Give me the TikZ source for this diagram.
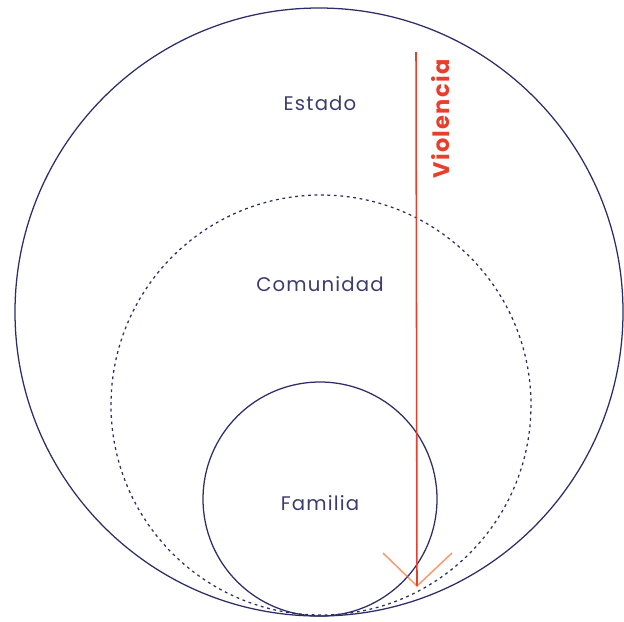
\documentclass[tikz,border=0pt]{standalone}
\usepackage{fontspec}
\setmainfont{Poppins}
\newfontfamily\labelfont[LetterSpace=6]{Poppins}
\definecolor{navy}{RGB}{46,46,102}
\definecolor{textnavy}{RGB}{60,60,110}
\definecolor{violred}{RGB}{232,62,44}

\begin{document}
\begin{tikzpicture}[
    x=0.025cm, y=-0.025cm,
    % Circles (thin navy lines)
    ring/.style={draw=navy, line width=0.9pt},
    dashring/.style={draw=navy, line width=0.9pt, dash pattern=on 2pt off 2.6pt},
    % Labels inside the circles
    label text/.style={text=textnavy, font=\labelfont\fontsize{14}{16}\selectfont, inner sep=0pt},
    % Red arrow
    arrowline/.style={draw=violred, line width=1.1pt},
    arrowhead/.style={draw=violred!55!orange, opacity=0.6, line width=1.1pt}
]
    \useasboundingbox (0,0) rectangle (624,621);

    % --- Circles ---
    \draw[ring] (319,312) circle (304);
    \draw[dashring] (321,405) circle (210);
    \draw[ring] (320,499) circle (117);

    % --- Labels ---
    \node[label text] (estado) at (320,103) {Estado};
    \node[label text] (comunidad) at (320,284) {Comunidad};
    \node[label text] (familia) at (320,503) {Familia};

    % --- Violence arrow ---
    \coordinate (vtop) at (416,52);
    \coordinate (vtip) at (417,586);
    \coordinate (hleft) at (383,553);
    \coordinate (hright) at (452,553);
    \draw[arrowline] (vtop) -- (vtip);
    \draw[arrowhead] (hleft) -- (vtip) -- (hright);
    \node[rotate=90, text=violred, font=\labelfont\fontsize{16}{18}\selectfont\bfseries, inner sep=0pt] (violencia) at (441,119) {Violencia};

\end{tikzpicture}
\end{document}
